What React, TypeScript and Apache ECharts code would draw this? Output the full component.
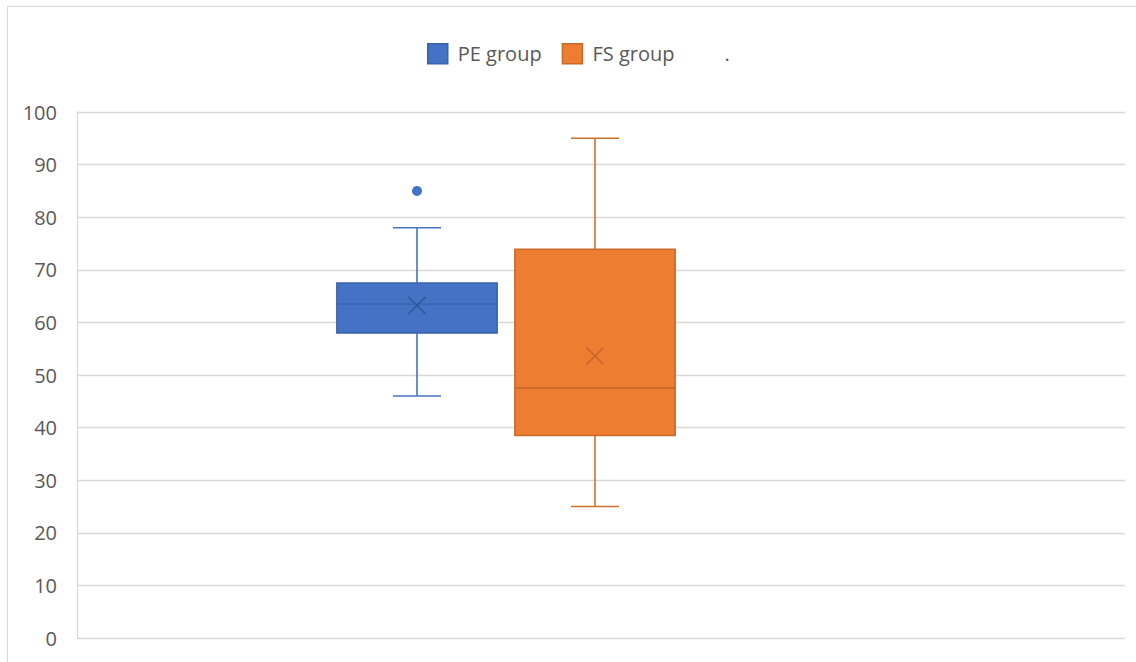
import React, { useEffect, useRef } from "react";
import * as echarts from "echarts";

const groups = ["PE group", "FS group", "."];
// [categoryIndex, min, Q1, median, Q3, max, mean]
const peStats = [[0, 46, 58, 63.5, 67.5, 78, 63.2]];
const fsStats = [[1, 25, 38.5, 47.5, 73.9, 95, 53.6]];
const peOutliers = [[0, 85]];
const yTicks = { min: 0, max: 100, interval: 10 };

const FONT = "'Open Sans', sans-serif";

type Sty = { fill: string; border: string; whisker: string; mean: string };
const peStyle: Sty = { fill: "#4472c4", border: "#3863ad", whisker: "#4472c4", mean: "#2f5597" };
const fsStyle: Sty = { fill: "#ed7d31", border: "#c8692a", whisker: "#d0702d", mean: "#c0662a" };

function makeRender(s: Sty) {
  return (params: any, api: any) => {
    const cat = api.value(0);
    const pMin = api.coord([cat, api.value(1)]);
    const pQ1 = api.coord([cat, api.value(2)]);
    const pMed = api.coord([cat, api.value(3)]);
    const pQ3 = api.coord([cat, api.value(4)]);
    const pMax = api.coord([cat, api.value(5)]);
    const pMean = api.coord([cat, api.value(6)]);
    const band = api.size([1, 0])[0];
    const cx = pMin[0];
    const bw = band * 0.9;
    const cw = band * 0.27;
    const xs = 8.5;
    const wl = { stroke: s.whisker, lineWidth: 1.6 };
    return {
      type: "group",
      children: [
        { type: "line", shape: { x1: cx, y1: pQ3[1], x2: cx, y2: pMax[1] }, style: wl },
        { type: "line", shape: { x1: cx, y1: pQ1[1], x2: cx, y2: pMin[1] }, style: wl },
        { type: "line", shape: { x1: cx - cw / 2, y1: pMax[1], x2: cx + cw / 2, y2: pMax[1] }, style: wl },
        { type: "line", shape: { x1: cx - cw / 2, y1: pMin[1], x2: cx + cw / 2, y2: pMin[1] }, style: wl },
        {
          type: "rect",
          shape: { x: cx - bw / 2, y: pQ3[1], width: bw, height: pQ1[1] - pQ3[1] },
          style: { fill: s.fill, stroke: s.border, lineWidth: 1.6 },
        },
        { type: "line", shape: { x1: cx - bw / 2, y1: pMed[1], x2: cx + bw / 2, y2: pMed[1] }, style: { stroke: s.border, lineWidth: 1.6 } },
        { type: "line", shape: { x1: cx - xs, y1: pMean[1] - xs, x2: cx + xs, y2: pMean[1] + xs }, style: { stroke: s.mean, lineWidth: 1.5 } },
        { type: "line", shape: { x1: cx - xs, y1: pMean[1] + xs, x2: cx + xs, y2: pMean[1] - xs }, style: { stroke: s.mean, lineWidth: 1.5 } },
      ],
    };
  };
}

export default function App() {
  const ref = useRef<HTMLDivElement>(null);
  useEffect(() => {
    if (!ref.current) return;
    const chart = echarts.init(ref.current, null, { renderer: "svg" });
    chart.setOption({
      animation: false,
      backgroundColor: "#ffffff",
      graphic: [
        {
          type: "rect",
          shape: { x: 7.5, y: 6.5, width: 1300, height: 800 },
          style: { fill: "none", stroke: "#d9d9d9", lineWidth: 1 },
          silent: true,
        },
      ],
      legend: {
        left: 427,
        top: 43,
        padding: 0,
        itemWidth: 20,
        itemHeight: 20,
        itemGap: 20,
        icon: "rect",
        selectedMode: false,
        textStyle: { fontSize: 20, color: "#595959", fontFamily: FONT, padding: [0, 0, 0, 5] },
        data: [
          { name: groups[0], itemStyle: { color: peStyle.fill, borderColor: peStyle.border, borderWidth: 1.5 } },
          { name: groups[1], itemStyle: { color: fsStyle.fill, borderColor: fsStyle.border, borderWidth: 1.5 } },
          { name: groups[2], itemStyle: { color: "rgba(0,0,0,0)", borderColor: "rgba(0,0,0,0)", borderWidth: 0 } },
        ],
      },
      grid: [
        { left: 77, right: 11, top: 112, bottom: 24 },
        { left: 328, width: 534, top: 112, bottom: 24 },
      ],
      xAxis: [
        { type: "category", gridIndex: 0, data: [""], show: false },
        { type: "category", gridIndex: 1, data: groups, show: false },
      ],
      yAxis: [
        {
          type: "value",
          gridIndex: 0,
          min: yTicks.min,
          max: yTicks.max,
          interval: yTicks.interval,
          axisLine: { show: true, lineStyle: { color: "#d9d9d9", width: 1.3 } },
          axisTick: { show: false },
          axisLabel: { fontSize: 20, color: "#595959", fontFamily: FONT, margin: 20 },
          splitLine: { lineStyle: { color: "#d9d9d9", width: 1.3 } },
        },
        { type: "value", gridIndex: 1, min: yTicks.min, max: yTicks.max, interval: yTicks.interval, show: false, splitLine: { show: false } },
      ],
      series: [
        {
          name: groups[0],
          type: "custom",
          xAxisIndex: 1,
          yAxisIndex: 1,
          itemStyle: { color: peStyle.fill },
          renderItem: makeRender(peStyle),
          data: peStats,
        },
        {
          name: groups[1],
          type: "custom",
          xAxisIndex: 1,
          yAxisIndex: 1,
          itemStyle: { color: fsStyle.fill },
          renderItem: makeRender(fsStyle),
          data: fsStats,
        },
        {
          name: groups[2],
          type: "custom",
          xAxisIndex: 1,
          yAxisIndex: 1,
          itemStyle: { color: "rgba(0,0,0,0)" },
          renderItem: makeRender(peStyle),
          data: [],
        },
        {
          name: groups[0],
          type: "scatter",
          xAxisIndex: 1,
          yAxisIndex: 1,
          symbol: "circle",
          symbolSize: 10,
          itemStyle: { color: "#4472c4", opacity: 1 },
          data: peOutliers,
        },
      ],
    });
    return () => chart.dispose();
  }, []);
  return <div ref={ref} style={{ position: "absolute", left: 0, top: 0, width: 1136, height: 662 }} />;
}
